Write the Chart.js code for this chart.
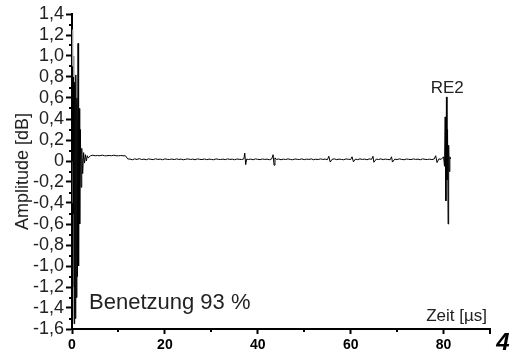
<!DOCTYPE html>
<html>
<head>
<meta charset="utf-8">
<script src="https://cdn.jsdelivr.net/npm/chart.js@4.4.1/dist/chart.umd.min.js"></script>
<style>
  html, body { margin: 0; padding: 0; background: #fff; }
  #wrap { position: relative; width: 518px; height: 353px; }
</style>
</head>
<body>
<div id="wrap"><canvas id="chartSignal" width="518" height="353"></canvas></div>
<script>
// time axis in µs, amplitude in dB
const burstTime = [0, 0.1, 0.22, 0.34, 0.46, 0.58, 0.7, 0.82, 0.94, 1.06, 1.18, 1.3, 1.42, 1.54, 1.66, 1.8, 1.95, 2.1, 2.3, 2.5, 2.7, 2.9, 3.1, 3.3, 3.5];
const burstAmp  = [0, 0.9, -0.5, 0.8, -1.55, 0.75, -1.5, 0.82, -1.3, 0.6, -1.1, 1.12, -1.0, 0.5, -0.6, 0.3, -0.25, 0.12, -0.12, 0.08, -0.02, 0.06, 0.0, 0.05, 0.03];

const greyTime = [0.05, 0.15, 0.28, 0.4, 0.52, 0.64, 0.76, 0.88, 1.0, 1.12, 1.24, 1.36];
const greyAmp  = [1.25, -0.4, 1.0, -1.2, 0.7, -1.45, 0.6, -0.9, 0.55, -0.7, 0.4, -0.3];

const plateauTime = [4, 4.5, 5, 5.5, 6, 6.5, 7, 7.5, 8, 8.5, 9, 9.5, 10, 10.5, 11, 11.5, 12];
const plateauAmp  = [0.05, 0.055, 0.05, 0.052, 0.05, 0.056, 0.05, 0.05, 0.053, 0.05, 0.055, 0.05, 0.05, 0.052, 0.05, 0.05, 0.02];

const baseTime = [12.5, 13, 13.5, 14, 14.5, 15, 15.5, 16, 16.5, 17, 17.5, 18, 18.5, 19, 19.5, 20, 20.5, 21, 21.5, 22, 22.5, 23, 23.5, 24, 24.5, 25, 25.5, 26, 26.5, 27, 27.5, 28, 28.5, 29, 29.5, 30, 30.5, 31, 31.5, 32, 32.5, 33, 33.5, 34, 34.5, 35, 35.5, 36, 36.5, 37, 37.2, 37.4, 37.6, 38, 38.5, 39, 39.5, 40, 40.5, 41, 41.5, 42, 42.5, 43, 43.3, 43.5, 43.7, 44, 44.5, 45, 45.5, 46, 46.5, 47, 47.5, 48, 48.5, 49, 49.5, 50, 50.5, 51, 51.5, 52, 52.5, 53, 53.5, 54, 54.5, 55, 55.3, 55.6, 56, 56.5, 57, 57.5, 58, 58.5, 59, 59.5, 60, 60.3, 60.6, 61, 61.5, 62, 62.5, 63, 63.5, 64, 64.5, 64.8, 65, 65.5, 66, 66.5, 67, 67.5, 68, 68.5, 68.8, 69, 69.5, 70, 70.5, 71, 71.5, 72, 72.5, 73, 73.5, 74, 74.5, 75, 75.5, 76, 76.5, 77, 77.5, 78, 78.3, 78.6, 79, 79.5];
const baseAmp  = [0.018, 0.012, 0.02, 0.015, 0.022, 0.014, 0.018, 0.012, 0.02, 0.016, 0.013, 0.021, 0.015, 0.018, 0.012, 0.02, 0.016, 0.014, 0.019, 0.013, 0.02, 0.015, 0.018, 0.012, 0.017, 0.02, 0.014, 0.018, 0.012, 0.02, 0.016, 0.014, 0.019, 0.013, 0.018, 0.015, 0.012, 0.02, 0.016, 0.014, 0.018, 0.013, 0.02, 0.015, 0.018, 0.012, 0.019, 0.016, 0.014, 0.02, 0.075, -0.035, 0.018, 0.014, 0.018, 0.012, 0.02, 0.016, 0.013, 0.019, 0.015, 0.018, 0.012, 0.02, 0.06, -0.04, 0.03, 0.015, 0.019, 0.012, 0.018, 0.014, 0.02, 0.015, 0.012, 0.019, 0.016, 0.014, 0.02, 0.013, 0.018, 0.015, 0.02, 0.012, 0.017, 0.014, 0.02, 0.015, 0.018, 0.013, 0.045, -0.01, 0.016, 0.02, 0.013, 0.018, 0.015, 0.012, 0.02, 0.016, 0.014, 0.04, -0.008, 0.018, 0.013, 0.02, 0.015, 0.018, 0.012, 0.02, 0.016, 0.045, -0.012, 0.018, 0.014, 0.02, 0.013, 0.018, 0.015, 0.012, 0.04, -0.01, 0.018, 0.014, 0.02, 0.015, 0.012, 0.019, 0.016, 0.013, 0.02, 0.015, 0.018, 0.012, 0.02, 0.016, 0.014, 0.018, 0.013, 0.02, 0.05, -0.015, 0.02, 0.016];

const echoTime = [80, 80.2, 80.35, 80.5, 80.62, 80.74, 80.86, 80.98, 81.1, 81.22, 81.36, 81.5];
const echoAmp  = [0.04, -0.05, 0.42, -0.38, 0.61, -0.18, 0.3, -0.6, 0.15, -0.1, 0.04, 0.02];

const yTicks = [1.4, 1.2, 1.0, 0.8, 0.6, 0.4, 0.2, 0, -0.2, -0.4, -0.6, -0.8, -1.0, -1.2, -1.4, -1.6];
const xTicks = [0, 20, 40, 60, 80];

function toPoints(times, amps) {
    return times.map((t, i) => ({ x: t, y: amps[i] }));
}

const signalPoints = [].concat(
    toPoints(burstTime, burstAmp),
    toPoints(plateauTime, plateauAmp),
    toPoints(baseTime, baseAmp),
    toPoints(echoTime, echoAmp)
);

function fmt(v) {
    if (Math.abs(v) < 1e-9) return '0';
    return v.toFixed(1).replace('.', ',');
}

const FONT = "'Liberation Sans', Arial, sans-serif";

// minor ticks, axis end tick and free texts
const decorPlugin = {
    id: 'decor',
    afterDraw(chart) {
        const ctx = chart.ctx;
        const xs = chart.scales.x, ys = chart.scales.y;
        const area = chart.chartArea;
        ctx.save();
        ctx.strokeStyle = '#000';
        ctx.lineWidth = 2;
        ctx.beginPath();
        for (let v = -1.5; v < 1.45; v += 0.2) {
            const py = Math.round(ys.getPixelForValue(v));
            ctx.moveTo(area.left - 3, py);
            ctx.lineTo(area.left, py);
        }
        [10, 30, 50, 70, 90].forEach(v => {
            const px = Math.round(xs.getPixelForValue(v));
            ctx.moveTo(px, area.bottom);
            ctx.lineTo(px, area.bottom + (v === 90 ? 5 : 3));
        });
        ctx.stroke();

        ctx.fillStyle = '#222';
        ctx.textBaseline = 'middle';
        ctx.textAlign = 'left';
        ctx.font = '22px ' + FONT;
        ctx.fillText('Benetzung 93 %', 89, 303);
        ctx.font = '17px ' + FONT;
        ctx.textAlign = 'right';
        ctx.fillText('Zeit [µs]', 487, 316);
        ctx.textAlign = 'center';
        ctx.font = '17px ' + FONT;
        ctx.fillText('RE2', xs.getPixelForValue(80.8), 88);
        ctx.fillStyle = '#000';
        ctx.font = 'italic bold 24px ' + FONT;
        ctx.fillText('4', 503, 343);
        ctx.restore();
    }
};

new Chart(document.getElementById('chartSignal').getContext('2d'), {
    type: 'scatter',
    data: {
        datasets: [
            { data: toPoints(greyTime, greyAmp), showLine: true, borderColor: '#9a9a9a', borderWidth: 1, pointRadius: 0, order: 2 },
            { data: signalPoints, showLine: true, borderColor: '#000', borderWidth: 1, pointRadius: 0, order: 1 }
        ]
    },
    options: {
        responsive: false,
        animation: false,
        events: [],
        layout: { padding: { top: 14, right: 28, left: 0, bottom: 0 } },
        plugins: { legend: { display: false }, tooltip: { enabled: false } },
        scales: {
            x: {
                type: 'linear',
                min: 0,
                max: 90,
                afterBuildTicks: s => { s.ticks = xTicks.map(v => ({ value: v })); },
                afterFit: s => { s.height = 24; },
                border: { color: '#000', width: 2 },
                grid: { drawOnChartArea: false, tickLength: 5, tickColor: '#000', tickWidth: 2 },
                ticks: { color: '#000', autoSkip: false, font: { family: FONT, size: 14, weight: 'bold' }, padding: 3, maxRotation: 0 }
            },
            y: {
                type: 'linear',
                min: -1.6,
                max: 1.4,
                afterBuildTicks: s => { s.ticks = yTicks.map(v => ({ value: v })); },
                afterFit: s => { s.width = 72; },
                border: { color: '#000', width: 2 },
                grid: { drawOnChartArea: false, tickLength: 6, tickColor: '#000', tickWidth: 2 },
                ticks: { color: '#222', autoSkip: false, font: { family: FONT, size: 18, lineHeight: 1 }, padding: 2, callback: v => fmt(v) },
                title: { display: true, text: 'Amplitude [dB]', color: '#222', font: { family: FONT, size: 18, lineHeight: 1.2 }, padding: { top: 12, bottom: 0 } }
            }
        }
    },
    plugins: [decorPlugin]
});
</script>
</body>
</html>
